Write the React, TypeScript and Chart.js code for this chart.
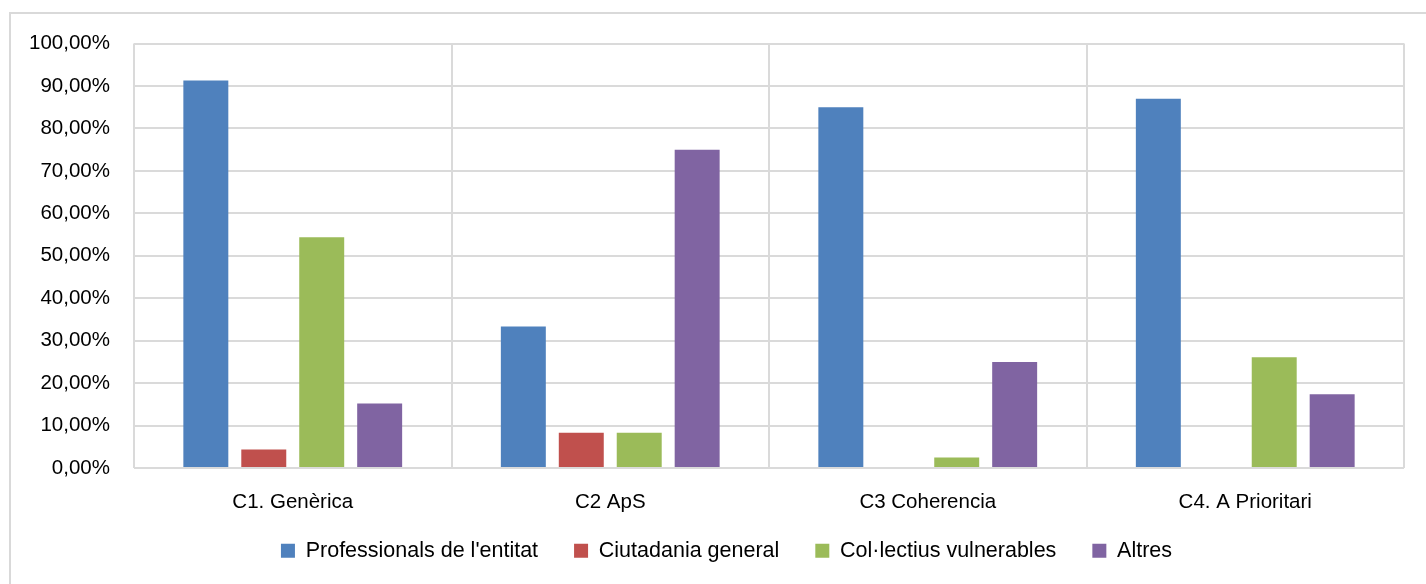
import React, { useEffect, useRef } from "react";
import { Chart, registerables } from "chart.js";

Chart.register(...registerables);

const categories = ["C1. Genèrica", "C2 ApS", "C3 Coherencia", "C4. A Prioritari"];
const professionals = [91.3, 33.33, 85.0, 86.96];
const ciutadania = [4.35, 8.33, 0, 0];
const collectius = [54.35, 8.33, 2.5, 26.09];
const altres = [15.22, 75.0, 25.0, 17.39];
const seriesNames = ["Professionals de l'entitat", "Ciutadania general", "Col·lectius vulnerables", "Altres"];
const seriesColors = ["#4F81BD", "#C0504D", "#9BBB59", "#8064A2"];
const yTicksMax = 100;
const yTicksStep = 10;

const FONT = "'Liberation Sans', Arial, sans-serif";

const legendShift = {
  id: "legendShift",
  afterLayout(chart: any) {
    const lg = chart.legend;
    if (!lg) return;
    lg.left += 24.5;
    lg.right += 24.5;
    lg.top -= 9;
    lg.bottom -= 9;
  },
};

export default function App() {
  const ref = useRef<HTMLCanvasElement | null>(null);

  useEffect(() => {
    if (!ref.current) return;
    const values = [professionals, ciutadania, collectius, altres];
    const chart = new Chart(ref.current, {
      type: "bar",
      data: {
        labels: categories,
        datasets: values.map((d, i) => ({
          label: seriesNames[i],
          data: d,
          backgroundColor: seriesColors[i],
          borderWidth: 0,
          categoryPercentage: 0.73,
          barPercentage: 0.776,
        })),
      },
      plugins: [legendShift],
      options: {
        animation: false,
        responsive: false,
        maintainAspectRatio: false,
        layout: { padding: { left: 0, right: 22, top: 43.5, bottom: 3.5 } },
        plugins: {
          tooltip: { enabled: false },
          legend: {
            position: "bottom",
            labels: {
              boxWidth: 14,
              boxHeight: 14,
              padding: 36,
              color: "#000",
              font: { family: FONT, size: 21.5 },
            },
          },
        },
        scales: {
          x: {
            afterFit: (s: any) => {
              s.height = 45;
            },
            grid: { color: "#dadada", lineWidth: 2, drawTicks: false, offset: true },
            border: { display: false },
            ticks: { color: "#000", padding: 22, font: { family: FONT, size: 20.5 } },
          },
          y: {
            min: 0,
            max: yTicksMax,
            afterFit: (s: any) => {
              s.width = 134;
            },
            grid: { color: "#dadada", lineWidth: 2, drawTicks: false },
            border: { display: false },
            ticks: {
              stepSize: yTicksStep,
              color: "#000",
              padding: 24,
              font: { family: FONT, size: 20.5 },
              callback: (v: any) => Number(v).toFixed(2).replace(".", ",") + "%",
            },
          },
        },
      },
    });
    return () => chart.destroy();
  }, []);

  return (
    <div style={{ position: "absolute", left: 0, top: 0, width: 1426, height: 584, overflow: "hidden", background: "#fff" }}>
      <div
        style={{
          position: "absolute",
          left: 9,
          top: 12,
          width: 1440,
          height: 620,
          border: "2px solid #d9d9d9",
          boxSizing: "border-box",
        }}
      />
      <canvas ref={ref} width={1426} height={584} style={{ position: "absolute", left: 0, top: 0 }} />
    </div>
  );
}
